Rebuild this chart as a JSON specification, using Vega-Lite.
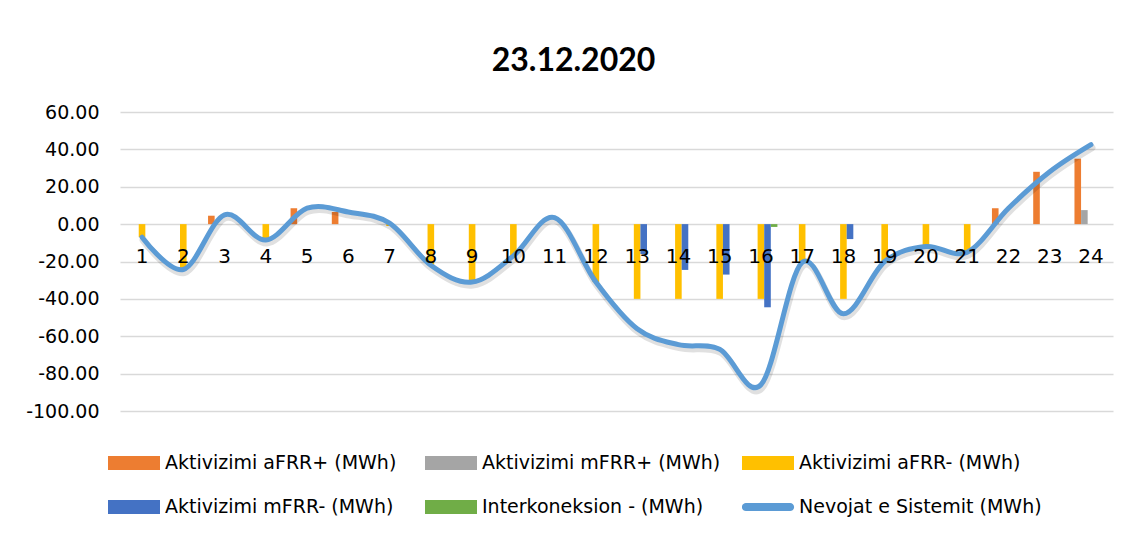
{
  "$schema": "https://vega.github.io/schema/vega-lite/v6.json",
  "width": 993,
  "height": 299,
  "autosize": "none",
  "padding": {"left": 120, "top": 112, "right": 18, "bottom": 123},
  "background": "white",
  "config": {"view": {"stroke": null}},
  "title": {"text": "23.12.2020", "font": "Lato", "fontSize": 32, "fontWeight": "bold", "color": "#000000", "anchor": "middle", "dx": -43, "dy": 41, "offset": 41, "baseline": "alphabetic"},
  "datasets": {
    "bars": [
      {"h": 1, "s": "Aktivizimi aFRR- (MWh)", "v": -7},
      {"h": 2, "s": "Aktivizimi aFRR- (MWh)", "v": -24},
      {"h": 3, "s": "Aktivizimi aFRR+ (MWh)", "v": 4.5},
      {"h": 4, "s": "Aktivizimi aFRR- (MWh)", "v": -8.5},
      {"h": 5, "s": "Aktivizimi aFRR+ (MWh)", "v": 8.5},
      {"h": 6, "s": "Aktivizimi aFRR+ (MWh)", "v": 6.5},
      {"h": 7, "s": "Aktivizimi aFRR- (MWh)", "v": -1},
      {"h": 8, "s": "Aktivizimi aFRR- (MWh)", "v": -22},
      {"h": 9, "s": "Aktivizimi aFRR- (MWh)", "v": -31},
      {"h": 10, "s": "Aktivizimi aFRR- (MWh)", "v": -17},
      {"h": 12, "s": "Aktivizimi aFRR- (MWh)", "v": -31},
      {"h": 13, "s": "Aktivizimi aFRR- (MWh)", "v": -40},
      {"h": 13, "s": "Aktivizimi mFRR- (MWh)", "v": -16},
      {"h": 14, "s": "Aktivizimi aFRR- (MWh)", "v": -40},
      {"h": 14, "s": "Aktivizimi mFRR- (MWh)", "v": -24.5},
      {"h": 15, "s": "Aktivizimi aFRR- (MWh)", "v": -40},
      {"h": 15, "s": "Aktivizimi mFRR- (MWh)", "v": -27},
      {"h": 16, "s": "Aktivizimi aFRR- (MWh)", "v": -40},
      {"h": 16, "s": "Aktivizimi mFRR- (MWh)", "v": -44.5},
      {"h": 16, "s": "Interkoneksion - (MWh)", "v": -1.5},
      {"h": 17, "s": "Aktivizimi aFRR- (MWh)", "v": -20.5},
      {"h": 18, "s": "Aktivizimi aFRR- (MWh)", "v": -40},
      {"h": 18, "s": "Aktivizimi mFRR- (MWh)", "v": -8},
      {"h": 19, "s": "Aktivizimi aFRR- (MWh)", "v": -20},
      {"h": 20, "s": "Aktivizimi aFRR- (MWh)", "v": -12},
      {"h": 21, "s": "Aktivizimi aFRR- (MWh)", "v": -15},
      {"h": 22, "s": "Aktivizimi aFRR+ (MWh)", "v": 8.5},
      {"h": 23, "s": "Aktivizimi aFRR+ (MWh)", "v": 28},
      {"h": 24, "s": "Aktivizimi aFRR+ (MWh)", "v": 35},
      {"h": 24, "s": "Aktivizimi mFRR+ (MWh)", "v": 7.5}
    ],
    "line": [
      {"h": 1, "v": -7}, {"h": 2, "v": -24.3}, {"h": 3, "v": 5}, {"h": 4, "v": -8.5},
      {"h": 5, "v": 8.5}, {"h": 6, "v": 6.5}, {"h": 7, "v": 0.5}, {"h": 8, "v": -22},
      {"h": 9, "v": -31}, {"h": 10, "v": -17}, {"h": 11, "v": 3.5}, {"h": 12, "v": -31},
      {"h": 13, "v": -56}, {"h": 14, "v": -64.5}, {"h": 15, "v": -67}, {"h": 16, "v": -86},
      {"h": 17, "v": -20.5}, {"h": 18, "v": -48}, {"h": 19, "v": -20}, {"h": 20, "v": -12},
      {"h": 21, "v": -15}, {"h": 22, "v": 8.5}, {"h": 23, "v": 28}, {"h": 24, "v": 42.5}
    ]
  },
  "encoding": {
    "x": {
      "field": "h", "type": "ordinal",
      "scale": {"paddingInner": 0.2, "paddingOuter": 0.134},
      "axis": {"orient": "bottom", "offset": -186.6, "labelFont": "DejaVu Sans", "labelFontSize": 20, "labelColor": "#000000", "labelAngle": 0, "ticks": false, "domain": false, "grid": false, "labelPadding": 22, "labelOverlap": false, "zindex": 1, "title": null}
    },
    "y": {
      "field": "v", "type": "quantitative",
      "scale": {"domain": [-100, 60], "nice": false, "zero": false},
      "axis": {"values": [-100, -80, -60, -40, -20, 0, 20, 40, 60], "labelExpr": "replace(format(datum.value, '.2f'), '\u2212', '-')", "labelFont": "DejaVu Sans", "labelFontSize": 19, "labelColor": "#000000", "labelPadding": 21, "labelOverlap": false, "ticks": false, "domain": false, "grid": true, "gridColor": "#D9D9D9", "gridWidth": 1.3, "zindex": 0, "title": null}
    }
  },
  "layer": [
    {
      "data": {"name": "bars"},
      "mark": {"type": "bar"},
      "encoding": {
        "xOffset": {
          "field": "s", "type": "nominal",
          "scale": {"domain": ["Aktivizimi aFRR+ (MWh)", "Aktivizimi mFRR+ (MWh)", "Aktivizimi aFRR- (MWh)", "Aktivizimi mFRR- (MWh)", "Interkoneksion - (MWh)"], "paddingInner": 0, "paddingOuter": 0}
        },
        "color": {
          "field": "s", "type": "nominal",
          "scale": {
            "domain": ["Aktivizimi aFRR+ (MWh)", "Aktivizimi mFRR+ (MWh)", "Aktivizimi aFRR- (MWh)", "Aktivizimi mFRR- (MWh)", "Interkoneksion - (MWh)", "Nevojat e Sistemit (MWh)"],
            "range": ["#ED7D31", "#A5A5A5", "#FFC000", "#4472C4", "#70AD47", "#5B9BD5"]
          },
          "legend": {
            "orient": "none", "legendX": -12, "legendY": 339, "direction": "horizontal", "columns": 3, "title": null,
            "labelFont": "DejaVu Sans", "labelFontSize": 19, "labelColor": "#000000", "labelLimit": 400,
            "symbolSize": 2704, "symbolType": "M-1,-0.27L1,-0.27L1,0.27L-1,0.27Z", "symbolStrokeWidth": 0, "symbolOpacity": 1,
            "labelOffset": 5, "columnPadding": 17, "rowPadding": 20, "clipHeight": 24, "gridAlign": "all", "padding": 0,
            "encode": {"symbols": {"update": {"shape": {"signal": "datum.value === 'Nevojat e Sistemit (MWh)' ? 'M-0.85,-0.154L0.85,-0.154A0.154,0.154 0 0 1 0.85,0.154L-0.85,0.154A0.154,0.154 0 0 1 -0.85,-0.154Z' : 'M-1,-0.27L1,-0.27L1,0.27L-1,0.27Z'"}}}}
          }
        }
      }
    },
    {
      "data": {"name": "line"},
      "mark": {"type": "line", "interpolate": "cardinal", "color": "#000000", "opacity": 0.12, "strokeWidth": 7, "yOffset": 3, "xOffset": 1, "strokeCap": "round"}
    },
    {
      "data": {"name": "line"},
      "mark": {"type": "line", "interpolate": "cardinal", "color": "#5B9BD5", "strokeWidth": 5, "strokeCap": "round", "strokeJoin": "round"}
    }
  ]
}
